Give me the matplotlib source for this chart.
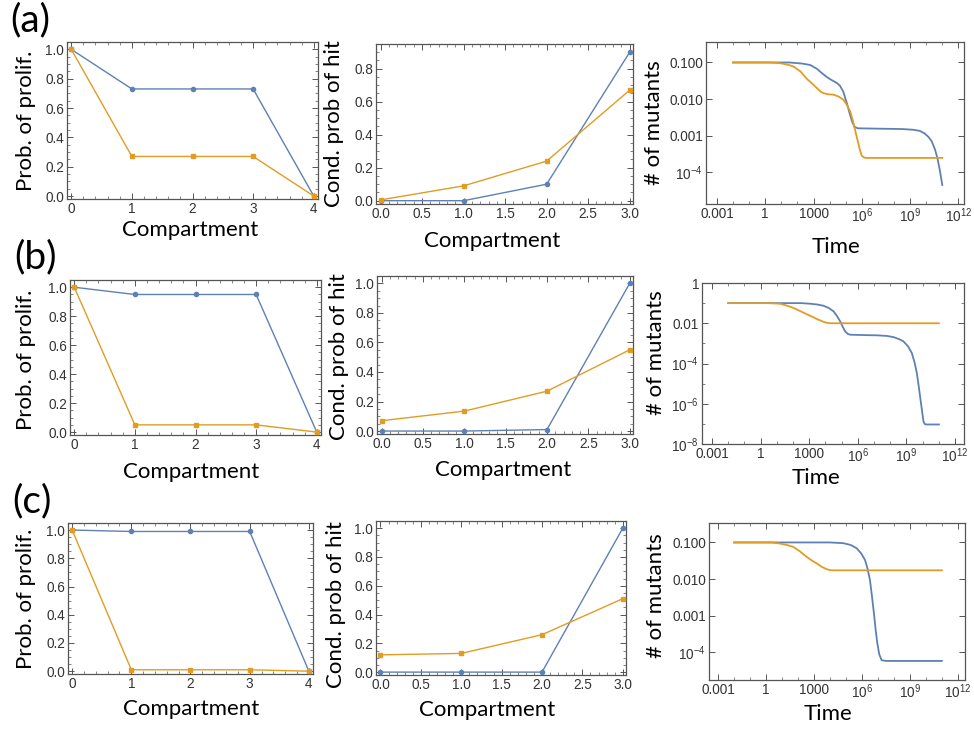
import numpy as np
import matplotlib
matplotlib.use("Agg")
import matplotlib.pyplot as plt
from matplotlib.ticker import FixedLocator, MultipleLocator, NullFormatter

BLUE = "#5e81b5"
ORANGE = "#e19c24"

W, H = 974, 732

# ---- data ----
comp5 = [0, 1, 2, 3, 4]
comp4 = [0, 1, 2, 3]

prolif_a_blue = [1.0, 0.73, 0.73, 0.73, 0.0]
prolif_a_orange = [1.0, 0.27, 0.27, 0.27, 0.0]
prolif_b_blue = [1.0, 0.95, 0.95, 0.95, 0.0]
prolif_b_orange = [1.0, 0.05, 0.05, 0.05, 0.0]
prolif_c_blue = [1.0, 0.99, 0.99, 0.99, 0.0]
prolif_c_orange = [1.0, 0.01, 0.01, 0.01, 0.0]

hit_a_blue = [0.0, 0.0, 0.10, 0.90]
hit_a_orange = [0.005, 0.09, 0.24, 0.67]
hit_b_blue = [0.0, 0.0, 0.01, 1.0]
hit_b_orange = [0.07, 0.135, 0.27, 0.55]
hit_c_blue = [0.0, 0.0, 0.0, 1.0]
hit_c_orange = [0.12, 0.13, 0.26, 0.51]

# mutant curves, as (log10 time, log10 count)
mut_a_blue = [(-2, -1.0), (1.5, -1.0), (2.3, -1.03), (2.8, -1.07), (3.2, -1.17), (3.6, -1.32),
              (3.93, -1.43), (4.2, -1.50), (4.45, -1.56), (4.65, -1.64), (4.85, -1.80),
              (5.07, -2.11), (5.25, -2.40), (5.4, -2.62), (5.55, -2.76), (5.75, -2.80),
              (7.0, -2.81), (8.5, -2.82), (9.2, -2.84), (9.6, -2.87), (9.9, -2.94),
              (10.15, -3.04), (10.35, -3.16), (10.55, -3.38), (10.7, -3.62), (10.85, -3.95),
              (11.0, -4.35)]
mut_a_orange = [(-2, -1.0), (0.3, -1.0), (0.93, -1.02), (1.4, -1.06), (1.76, -1.11), (2.2, -1.25),
                (2.59, -1.45), (2.9, -1.57), (3.21, -1.70), (3.45, -1.80), (3.62, -1.84),
                (3.9, -1.87), (4.24, -1.88), (4.55, -1.93), (4.86, -2.02), (5.1, -2.18),
                (5.28, -2.34), (5.45, -2.6), (5.6, -2.88), (5.75, -3.15), (5.9, -3.42),
                (6.0, -3.55), (6.15, -3.60), (6.31, -3.61), (11.0, -3.61)]
mut_b_blue = [(-2, -1.0), (2.5, -1.0), (3.06, -1.03), (3.5, -1.07), (3.88, -1.13), (4.2, -1.24),
              (4.5, -1.41), (4.72, -1.65), (4.91, -1.91), (5.08, -2.2), (5.22, -2.41),
              (5.38, -2.53), (5.53, -2.57), (6.5, -2.59), (7.17, -2.60), (7.8, -2.63),
              (8.2, -2.69), (8.55, -2.79), (8.81, -2.90), (9.1, -3.15), (9.33, -3.48),
              (9.5, -3.95), (9.64, -4.48), (9.75, -5.1), (9.84, -5.64), (9.95, -6.3),
              (10.05, -6.88), (10.12, -7.0), (10.19, -7.03), (11.0, -7.03)]
mut_b_orange = [(-2, -1.0), (0.5, -1.0), (1.21, -1.03), (1.6, -1.12), (2.03, -1.24), (2.5, -1.42),
                (3.06, -1.63), (3.5, -1.80), (3.88, -1.93), (4.1, -1.98), (4.29, -2.0),
                (11.0, -2.0)]
mut_c_blue = [(-2, -1.0), (4.0, -1.0), (4.83, -1.02), (5.3, -1.07), (5.67, -1.16), (5.95, -1.3),
              (6.19, -1.48), (6.35, -1.72), (6.5, -2.03), (6.62, -2.45), (6.75, -2.94),
              (6.86, -3.4), (6.96, -3.75), (7.08, -4.05), (7.23, -4.21), (7.5, -4.23),
              (11.0, -4.23)]
mut_c_orange = [(-2, -1.0), (0.3, -1.0), (0.86, -1.03), (1.3, -1.07), (1.70, -1.12), (2.1, -1.24),
                (2.53, -1.39), (2.85, -1.49), (3.16, -1.57), (3.5, -1.67), (3.79, -1.73),
                (4.0, -1.755), (4.20, -1.76), (11.0, -1.76)]

time_ticks = [1e-3, 1, 1e3, 1e6, 1e9, 1e12]
time_labels = ["0.001", "1", "1000", r"$10^{6}$", r"$10^{9}$", r"$10^{12}$"]
mut_ticks_ac = [1e-1, 1e-2, 1e-3, 1e-4]
mut_labels_ac = ["0.100", "0.010", "0.001", r"$10^{-4}$"]
mut_ticks_b = [1, 1e-2, 1e-4, 1e-6, 1e-8]
mut_labels_b = ["1", "0.01", r"$10^{-4}$", r"$10^{-6}$", r"$10^{-8}$"]

plt.rcParams["mathtext.fontset"] = "custom"
plt.rcParams["mathtext.rm"] = "Liberation Sans"
plt.rcParams["mathtext.it"] = "Liberation Sans"
plt.rcParams["font.family"] = "Liberation Sans"

LABEL_FONT = "Lato"
FRAME = "#555555"
TICKCOL = "#333333"

fig = plt.figure(figsize=(W / 100, H / 100), dpi=100)


def box(l, t, r, b):
    return [l / W, 1 - b / H, (r - l) / W, (b - t) / H]


def style(ax):
    for s in ax.spines.values():
        s.set_color(FRAME)
        s.set_linewidth(0.9)
    ax.tick_params(which="both", direction="in", top=True, right=True, colors=FRAME,
                   labelcolor=TICKCOL, labelsize=9.8, pad=2)
    ax.tick_params(which="major", length=4, width=0.7)
    ax.tick_params(which="minor", length=2, width=0.5)


def prolif_panel(pos, blue, orange):
    ax = fig.add_axes(box(*pos))
    ax.plot(comp5, blue, color=BLUE, lw=1.0, marker="o", ms=3.0, clip_on=False, zorder=3)
    ax.plot(comp5, orange, color=ORANGE, lw=1.0, marker="s", ms=2.3, clip_on=False, zorder=3)
    ax.set_xlim(-0.07, 4.07)
    ax.set_ylim(-0.02, 1.05)
    ax.set_xticks(comp5)
    ax.set_yticks([0, 0.2, 0.4, 0.6, 0.8, 1.0])
    ax.set_yticklabels(["0.0", "0.2", "0.4", "0.6", "0.8", "1.0"])
    ax.xaxis.set_minor_locator(MultipleLocator(0.2))
    ax.yaxis.set_minor_locator(MultipleLocator(0.05))
    style(ax)
    return ax


def hit_panel(pos, blue, orange, ymax, yt):
    ax = fig.add_axes(box(*pos))
    ax.plot(comp4, blue, color=BLUE, lw=1.0, marker="o", ms=3.0, clip_on=False, zorder=3)
    ax.plot(comp4, orange, color=ORANGE, lw=1.0, marker="s", ms=2.3, clip_on=False, zorder=3)
    ax.set_xlim(-0.055, 3.04)
    ax.set_ylim(-0.02, ymax)
    ax.set_xticks([0, 0.5, 1, 1.5, 2, 2.5, 3])
    ax.set_xticklabels(["0.0", "0.5", "1.0", "1.5", "2.0", "2.5", "3.0"])
    ax.set_yticks(yt)
    ax.set_yticklabels(["%.1f" % v for v in yt])
    ax.xaxis.set_minor_locator(MultipleLocator(0.1))
    ax.yaxis.set_minor_locator(MultipleLocator(0.05))
    style(ax)
    return ax


def mut_panel(pos, blue, orange, xlim, ylim, yt, ylab):
    ax = fig.add_axes(box(*pos))
    b = np.array(blue)
    o = np.array(orange)
    ax.plot(10 ** b[:, 0], 10 ** b[:, 1], color=BLUE, lw=1.3)
    ax.plot(10 ** o[:, 0], 10 ** o[:, 1], color=ORANGE, lw=1.3)
    ax.set_xscale("log")
    ax.set_yscale("log")
    ax.set_xlim(10 ** xlim[0], 10 ** xlim[1])
    ax.set_ylim(10 ** ylim[0], 10 ** ylim[1])
    ax.xaxis.set_major_locator(FixedLocator(time_ticks))
    ax.xaxis.set_minor_locator(FixedLocator([10.0 ** k for k in range(-3, 13)]))
    ax.xaxis.set_minor_formatter(NullFormatter())
    ax.set_xticklabels(time_labels)
    ax.yaxis.set_major_locator(FixedLocator(yt))
    ax.yaxis.set_minor_locator(FixedLocator([10.0 ** k for k in range(-8, 1)]))
    ax.yaxis.set_minor_formatter(NullFormatter())
    ax.set_yticklabels(ylab)
    style(ax)
    return ax


prolif_panel((67, 42, 318, 199), prolif_a_blue, prolif_a_orange)
hit_panel((376, 44, 633, 204), hit_a_blue, hit_a_orange, 0.95, [0, 0.2, 0.4, 0.6, 0.8])
mut_panel((706, 42, 964, 204), mut_a_blue, mut_a_orange, (-3.68, 12.35), (-4.87, -0.44),
          mut_ticks_ac, mut_labels_ac)

prolif_panel((70, 280, 321, 435), prolif_b_blue, prolif_b_orange)
hit_panel((377, 276, 633, 434), hit_b_blue, hit_b_orange, 1.05, [0, 0.2, 0.4, 0.6, 0.8, 1.0])
mut_panel((702, 283, 964, 444), mut_b_blue, mut_b_orange, (-3.62, 12.55), (-8, 0),
          mut_ticks_b, mut_labels_b)

prolif_panel((68, 523, 313, 674), prolif_c_blue, prolif_c_orange)
hit_panel((376, 521, 626, 675), hit_c_blue, hit_c_orange, 1.05, [0, 0.2, 0.4, 0.6, 0.8, 1.0])
mut_panel((709, 523, 965, 680), mut_c_blue, mut_c_orange, (-3.58, 12.45), (-4.75, -0.47),
          mut_ticks_ac, mut_labels_ac)


def ftext(x, y, s, size=16, rot=0):
    fig.text(x / W, 1 - y / H, s, ha="center", va="center", rotation=rot,
             fontsize=size, family=LABEL_FONT, color="black")


# panel letters
ftext(30, 20, "(a)", size=28)
ftext(35, 257, "(b)", size=28)
ftext(32, 501, "(c)", size=28)

# x labels
ftext(190, 230, "Compartment")
ftext(492, 241, "Compartment")
ftext(836, 247, "Time")
ftext(191, 472, "Compartment")
ftext(503, 470, "Compartment")
ftext(816, 478, "Time")
ftext(191, 709, "Compartment")
ftext(487, 710, "Compartment")
ftext(828, 714, "Time")

# y labels
ftext(26, 121, "Prob. of prolif.", rot=90)
ftext(334, 124, "Cond. prob of hit", rot=90)
ftext(654, 123, "# of mutants", rot=90)
ftext(26, 360, "Prob. of prolif.", rot=90)
ftext(339, 357, "Cond. prob of hit", rot=90)
ftext(656, 353, "# of mutants", rot=90)
ftext(26, 599, "Prob. of prolif.", rot=90)
ftext(336, 605, "Cond. prob of hit", rot=90)
ftext(656, 596, "# of mutants", rot=90)

fig.savefig("out.png", dpi=100)
